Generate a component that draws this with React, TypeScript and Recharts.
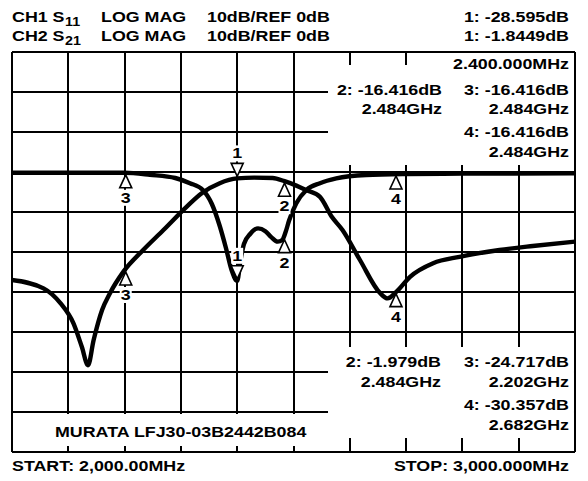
import React from "react";
import { CartesianGrid, Line, LineChart, ReferenceArea, ReferenceDot, XAxis, YAxis } from "recharts";

// sweep 2000..3000 MHz, 10 dB/div, REF 0 dB
const freqTicks = [2000, 2100, 2200, 2300, 2400, 2500, 2600, 2700, 2800, 2900, 3000];
const dbTicks = [-70, -60, -50, -40, -30, -20, -10, 0, 10, 20, 30];

// CH1 S11 (return loss)
const s11Freqs = [2000, 2100, 2200, 2245, 2290, 2316, 2339, 2355, 2369, 2380, 2390, 2400, 2406, 2412, 2423, 2437, 2450, 2460, 2472, 2480, 2486, 2492, 2505, 2523, 2547, 2576, 2629, 2700, 2800, 3000];
const s11Mags = [-0.2, -0.2, -0.2, -0.7, -1.5, -2.8, -4.5, -8.0, -13.5, -19, -24.5, -27.2, -22, -18, -15.5, -14.1, -14.8, -16.2, -17.4, -17.0, -15.0, -12.2, -7.8, -4.5, -2.8, -1.6, -0.75, -0.5, -0.4, -0.35];

// CH2 S21 (insertion loss)
const s21Freqs = [2000, 2056, 2086, 2109, 2124, 2135, 2145, 2160, 2174, 2198, 2233, 2269, 2310, 2337, 2369, 2400, 2430, 2463, 2484, 2505, 2522, 2547, 2568, 2587, 2618, 2654, 2667, 2683, 2707, 2748, 2795, 2866, 2925, 3000];
const s21Mags = [-27, -29.1, -32.8, -37.8, -43.7, -48.3, -42, -34.5, -30.3, -24.9, -19.5, -14.5, -8.7, -5.3, -2.8, -1.6, -1.4, -1.5, -2.3, -3.4, -4.5, -6.2, -11.2, -14.5, -22, -30.3, -31.6, -29.9, -26.2, -22.8, -21.2, -19.5, -18.5, -17.4];

// markers 1..4
const markerNames = ["1", "2", "3", "4"];
const markerFreqs = [2400, 2484, 2202, 2682];
const s11MarkerMags = [-27.2, -16.4, -0.2, -0.5];
const s21MarkerMags = [-1.6, -2.3, -24.5, -29.9];

const s11Data = s11Freqs.map((f, i) => ({ f, db: s11Mags[i] }));
const s21Data = s21Freqs.map((f, i) => ({ f, db: s21Mags[i] }));

const FONT = "'Liberation Sans', Arial, Helvetica, sans-serif";

function T({ x, y, size = 15, anchor = "start", children }: any) {
  return (
    <text
      transform={`translate(${x},${y}) scale(1.19,1)`}
      textAnchor={anchor}
      fontFamily={FONT}
      fontWeight="bold"
      fontSize={size}
      fill="#000"
    >
      {children}
    </text>
  );
}

function markerShape(name: string, down: boolean) {
  return (p: any) => {
    const { cx, cy } = p;
    if (down) {
      const tip = cy - 2;
      return (
        <g>
          <polygon points={`${cx - 6},${tip - 13} ${cx + 6},${tip - 13} ${cx},${tip}`} fill="#fff" stroke="#000" strokeWidth={1.6} />
          <rect x={cx - 6} y={tip - 31} width={12} height={16} fill="#fff" />
          <T x={cx} y={tip - 18} anchor="middle">{name}</T>
        </g>
      );
    }
    const tip = cy + 2;
    return (
      <g>
        <polygon points={`${cx},${tip} ${cx - 6},${tip + 13} ${cx + 6},${tip + 13}`} fill="#fff" stroke="#000" strokeWidth={1.6} />
        <rect x={cx - 6} y={tip + 15} width={12} height={16} fill="#fff" />
        <T x={cx} y={tip + 28} anchor="middle">{name}</T>
      </g>
    );
  };
}

export default function App() {
  return (
    <div style={{ position: "absolute", left: 0, top: 0, width: 588, height: 481, background: "#fff" }}>
      <LineChart width={588} height={481} margin={{ top: 52, right: 13, bottom: 29, left: 12 }}>
        <XAxis type="number" dataKey="f" domain={[2000, 3000]} ticks={freqTicks} interval={0} hide allowDataOverflow />
        <YAxis type="number" dataKey="db" domain={[-70, 30]} ticks={dbTicks} interval={0} hide allowDataOverflow />
        <CartesianGrid stroke="#000" strokeWidth={2} strokeOpacity={1} shapeRendering="crispEdges" />
        {/* readout boxes over the graticule */}
        <ReferenceArea x1={2772.6} x2={2998.2} y1={29.75} y2={1.75} fill="#fff" fillOpacity={1} stroke="none" />
        <ReferenceArea x1={2561.3} x2={2998.2} y1={26.75} y2={1.75} fill="#fff" fillOpacity={1} stroke="none" />
        <ReferenceArea x1={2561.3} x2={2998.2} y1={-43.75} y2={-66.5} fill="#fff" fillOpacity={1} stroke="none" />
        <ReferenceArea x1={2003.6} x2={2561.3} y1={-60.5} y2={-68.5} fill="#fff" fillOpacity={1} stroke="none" />
        <Line data={s11Data} dataKey="db" type="monotone" stroke="#000" strokeWidth={4.4} dot={false} isAnimationActive={false} />
        <Line data={s21Data} dataKey="db" type="monotone" stroke="#000" strokeWidth={4.4} dot={false} isAnimationActive={false} />
        {markerFreqs.map((f, i) => (
          <ReferenceDot key={"s11" + i} x={f} y={s11MarkerMags[i]} shape={markerShape(markerNames[i], i === 0)} />
        ))}
        {markerFreqs.map((f, i) => (
          <ReferenceDot key={"s21" + i} x={f} y={s21MarkerMags[i]} shape={markerShape(markerNames[i], i === 0)} />
        ))}
      </LineChart>
      <svg width={588} height={481} style={{ position: "absolute", left: 0, top: 0, pointerEvents: "none" }}>
        <T x={12} y={22}>CH1 S</T>
        <T x={65} y={26} size={12}>11</T>
        <T x={101} y={22}>LOG MAG</T>
        <T x={207} y={22}>10dB/REF 0dB</T>
        <T x={569} y={22} anchor="end">1: -28.595dB</T>
        <T x={12} y={41}>CH2 S</T>
        <T x={65} y={45} size={12}>21</T>
        <T x={101} y={41}>LOG MAG</T>
        <T x={207} y={41}>10dB/REF 0dB</T>
        <T x={569} y={41} anchor="end">1: -1.8449dB</T>

        <T x={569} y={69} anchor="end">2.400.000MHz</T>
        <T x={442} y={95} anchor="end">2: -16.416dB</T>
        <T x={442} y={114} anchor="end">2.484GHz</T>
        <T x={569} y={95} anchor="end">3: -16.416dB</T>
        <T x={569} y={114} anchor="end">2.484GHz</T>
        <T x={569} y={137} anchor="end">4: -16.416dB</T>
        <T x={569} y={157} anchor="end">2.484GHz</T>

        <T x={441} y={367} anchor="end">2: -1.979dB</T>
        <T x={441} y={387} anchor="end">2.484GHz</T>
        <T x={569} y={367} anchor="end">3: -24.717dB</T>
        <T x={569} y={387} anchor="end">2.202GHz</T>
        <T x={569} y={410} anchor="end">4: -30.357dB</T>
        <T x={569} y={430} anchor="end">2.682GHz</T>

        <T x={55} y={437}>MURATA LFJ30-03B2442B084</T>
        <T x={12} y={471}>START: 2,000.00MHz</T>
        <T x={569} y={471} anchor="end">STOP: 3,000.000MHz</T>
      </svg>
    </div>
  );
}
